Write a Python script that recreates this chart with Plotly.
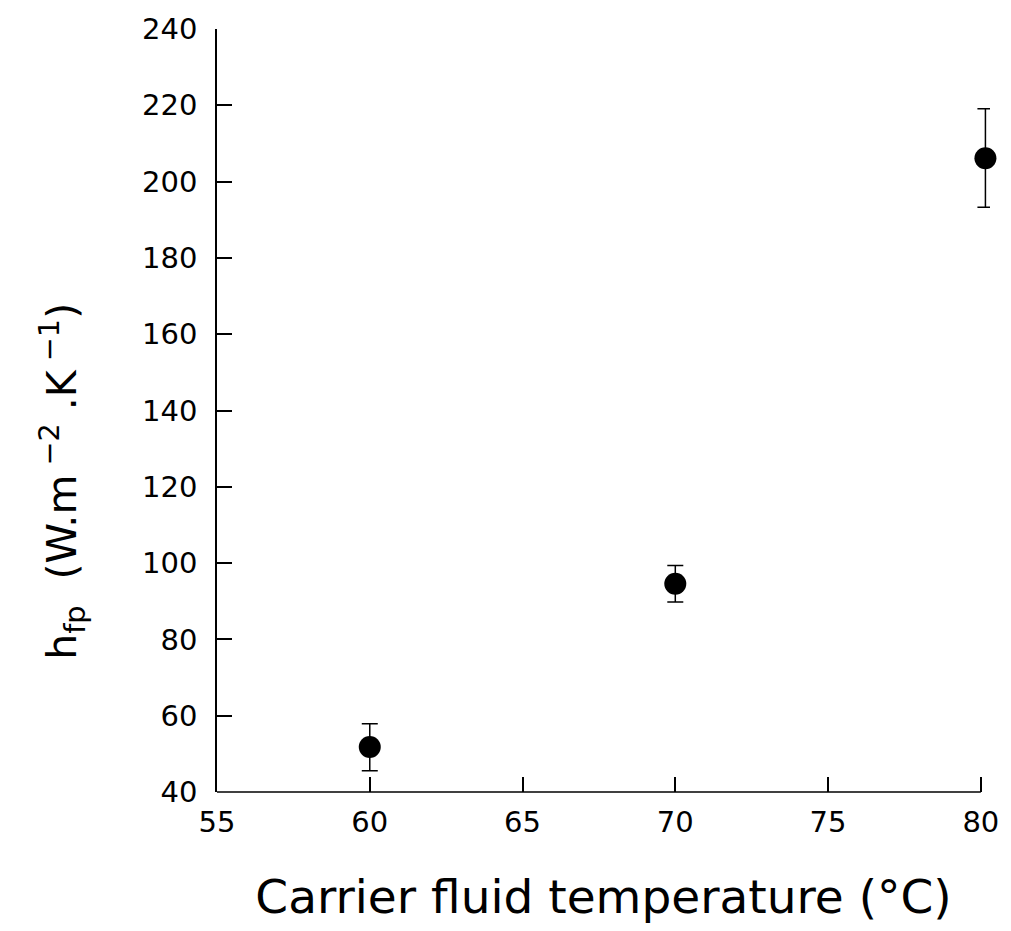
import plotly.graph_objects as go

temps = [60, 70, 80.15]
h_fp = [51.8, 94.6, 206.1]
err_plus = [6.1, 4.8, 13.0]
err_minus = [6.2, 4.8, 12.8]

x_ticks = [55, 60, 65, 70, 75, 80]
y_ticks = [40, 60, 80, 100, 120, 140, 160, 180, 200, 220, 240]

FONT = "DejaVu Sans"

fig = go.Figure()
fig.add_trace(go.Scatter(
    x=temps, y=h_fp, mode="markers",
    marker=dict(color="black", size=22, line=dict(width=0)),
    error_y=dict(type="data", symmetric=False, array=err_plus, arrayminus=err_minus,
                 color="black", thickness=1.5, width=8),
    cliponaxis=False,
    showlegend=False,
))

# x-axis baseline drawn from first to last tick
fig.add_shape(type="line", xref="x", yref="paper", x0=x_ticks[0], x1=x_ticks[-1], y0=0, y1=0,
              line=dict(color="black", width=1.5))

fig.update_layout(
    width=1011, height=931,
    margin=dict(l=217, r=18, t=25, b=139),
    paper_bgcolor="white", plot_bgcolor="white",
    font=dict(family=FONT, color="black"),
    annotations=[dict(
        text="h<sub>fp</sub>  (W.m<sup> −2</sup> .K<sup> −1</sup>)",
        xref="paper", yref="paper", x=-0.2, y=0.407, xanchor="center", yanchor="middle",
        textangle=-90, showarrow=False, font=dict(size=41, family=FONT, color="black"),
    )],
)
fig.update_xaxes(
    range=[55, 80.3], tickvals=x_ticks, ticktext=[str(v) for v in x_ticks],
    ticks="inside", ticklen=15, tickwidth=1.5, tickcolor="black",
    showline=False, showgrid=False, zeroline=False,
    tickfont=dict(size=29, family=FONT), ticklabelstandoff=10,
    title=dict(text="Carrier fluid temperature (°C)", font=dict(size=47, family=FONT), standoff=42),
)
fig.update_yaxes(
    range=[40, 240], tickvals=y_ticks, ticktext=[str(v) for v in y_ticks],
    ticks="inside", ticklen=15, tickwidth=1.5, tickcolor="black",
    showline=True, linecolor="black", linewidth=1.5, showgrid=False, zeroline=False,
    tickfont=dict(size=29, family=FONT), ticklabelstandoff=12,
)

fig.write_html("out.html")
